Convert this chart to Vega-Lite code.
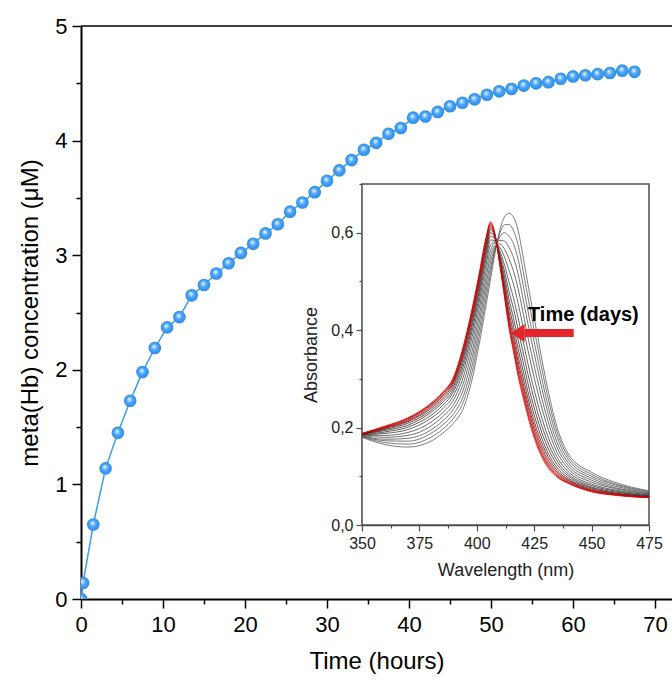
{
  "$schema": "https://vega.github.io/schema/vega-lite/v6.json",
  "width": 591,
  "height": 573,
  "autosize": {"type": "none"},
  "padding": {"left": 81, "top": 26, "right": 0, "bottom": 83},
  "background": "white",
  "config": {"view": {"stroke": null}, "font": "Liberation Sans", "axis": {"grid": false, "labelOverlap": false, "labelFlush": false, "titleFontWeight": "normal"}},
  "datasets": {
    "main": [
      {"t":0,"c":0},{"t":0.25,"c":0.14},{"t":1.5,"c":0.65},{"t":3,"c":1.14},{"t":4.5,"c":1.45},{"t":6,"c":1.73},{"t":7.5,"c":1.98},{"t":9,"c":2.19},{"t":10.5,"c":2.37},{"t":12,"c":2.46},{"t":13.5,"c":2.65},{"t":15,"c":2.74},{"t":16.5,"c":2.84},{"t":18,"c":2.93},{"t":19.5,"c":3.02},{"t":21,"c":3.1},{"t":22.5,"c":3.19},{"t":24,"c":3.27},{"t":25.5,"c":3.38},{"t":27,"c":3.46},{"t":28.5,"c":3.55},{"t":30,"c":3.65},{"t":31.5,"c":3.74},{"t":33,"c":3.83},{"t":34.5,"c":3.92},{"t":36,"c":3.98},{"t":37.5,"c":4.06},{"t":39,"c":4.11},{"t":40.5,"c":4.2},{"t":42,"c":4.21},{"t":43.5,"c":4.25},{"t":45,"c":4.3},{"t":46.5,"c":4.33},{"t":48,"c":4.36},{"t":49.5,"c":4.4},{"t":51,"c":4.43},{"t":52.5,"c":4.45},{"t":54,"c":4.48},{"t":55.5,"c":4.5},{"t":57,"c":4.51},{"t":58.5,"c":4.54},{"t":60,"c":4.56},{"t":61.5,"c":4.57},{"t":63,"c":4.58},{"t":64.5,"c":4.59},{"t":66,"c":4.61},{"t":67.5,"c":4.6}
    ],
    "spectra": [
      {"k":0,"w":350,"a":0.18},{"k":0,"w":360,"a":0.165},{"k":0,"w":370,"a":0.16},{"k":0,"w":380,"a":0.172},{"k":0,"w":385,"a":0.188},{"k":0,"w":390,"a":0.21},{"k":0,"w":394,"a":0.238},{"k":0,"w":398,"a":0.3},{"k":0,"w":401,"a":0.37},{"k":0,"w":404,"a":0.45},{"k":0,"w":406,"a":0.505},{"k":0,"w":408,"a":0.56},{"k":0,"w":410,"a":0.605},{"k":0,"w":412,"a":0.632},{"k":0,"w":414,"a":0.64},{"k":0,"w":416,"a":0.632},{"k":0,"w":418,"a":0.605},{"k":0,"w":420,"a":0.555},{"k":0,"w":423,"a":0.475},{"k":0,"w":426,"a":0.4},{"k":0,"w":430,"a":0.3},{"k":0,"w":435,"a":0.2},{"k":0,"w":440,"a":0.145},{"k":0,"w":450,"a":0.108},{"k":0,"w":460,"a":0.088},{"k":0,"w":475,"a":0.07},
      {"k":1,"w":350,"a":0.181},{"k":1,"w":360,"a":0.169},{"k":1,"w":370,"a":0.166},{"k":1,"w":380,"a":0.18},{"k":1,"w":385,"a":0.196},{"k":1,"w":390,"a":0.22},{"k":1,"w":394,"a":0.251},{"k":1,"w":398,"a":0.315},{"k":1,"w":401,"a":0.385},{"k":1,"w":404,"a":0.464},{"k":1,"w":406,"a":0.517},{"k":1,"w":408,"a":0.564},{"k":1,"w":410,"a":0.598},{"k":1,"w":412,"a":0.616},{"k":1,"w":414,"a":0.617},{"k":1,"w":416,"a":0.604},{"k":1,"w":418,"a":0.575},{"k":1,"w":420,"a":0.526},{"k":1,"w":423,"a":0.449},{"k":1,"w":426,"a":0.377},{"k":1,"w":430,"a":0.283},{"k":1,"w":435,"a":0.19},{"k":1,"w":440,"a":0.139},{"k":1,"w":450,"a":0.104},{"k":1,"w":460,"a":0.085},{"k":1,"w":475,"a":0.069},
      {"k":2,"w":350,"a":0.182},{"k":2,"w":360,"a":0.173},{"k":2,"w":370,"a":0.172},{"k":2,"w":380,"a":0.188},{"k":2,"w":385,"a":0.205},{"k":2,"w":390,"a":0.229},{"k":2,"w":394,"a":0.263},{"k":2,"w":398,"a":0.329},{"k":2,"w":401,"a":0.399},{"k":2,"w":404,"a":0.478},{"k":2,"w":406,"a":0.528},{"k":2,"w":408,"a":0.567},{"k":2,"w":410,"a":0.591},{"k":2,"w":412,"a":0.6},{"k":2,"w":414,"a":0.593},{"k":2,"w":416,"a":0.577},{"k":2,"w":418,"a":0.545},{"k":2,"w":420,"a":0.497},{"k":2,"w":423,"a":0.422},{"k":2,"w":426,"a":0.353},{"k":2,"w":430,"a":0.265},{"k":2,"w":435,"a":0.18},{"k":2,"w":440,"a":0.133},{"k":2,"w":450,"a":0.1},{"k":2,"w":460,"a":0.083},{"k":2,"w":475,"a":0.067},
      {"k":3,"w":350,"a":0.182},{"k":3,"w":360,"a":0.176},{"k":3,"w":370,"a":0.178},{"k":3,"w":380,"a":0.195},{"k":3,"w":385,"a":0.213},{"k":3,"w":390,"a":0.239},{"k":3,"w":394,"a":0.276},{"k":3,"w":398,"a":0.344},{"k":3,"w":401,"a":0.414},{"k":3,"w":404,"a":0.492},{"k":3,"w":406,"a":0.54},{"k":3,"w":408,"a":0.571},{"k":3,"w":410,"a":0.584},{"k":3,"w":412,"a":0.583},{"k":3,"w":414,"a":0.57},{"k":3,"w":416,"a":0.549},{"k":3,"w":418,"a":0.515},{"k":3,"w":420,"a":0.468},{"k":3,"w":423,"a":0.396},{"k":3,"w":426,"a":0.33},{"k":3,"w":430,"a":0.248},{"k":3,"w":435,"a":0.169},{"k":3,"w":440,"a":0.127},{"k":3,"w":450,"a":0.096},{"k":3,"w":460,"a":0.08},{"k":3,"w":475,"a":0.066},
      {"k":4,"w":350,"a":0.183},{"k":4,"w":360,"a":0.18},{"k":4,"w":370,"a":0.184},{"k":4,"w":380,"a":0.203},{"k":4,"w":385,"a":0.222},{"k":4,"w":390,"a":0.248},{"k":4,"w":394,"a":0.289},{"k":4,"w":398,"a":0.358},{"k":4,"w":401,"a":0.428},{"k":4,"w":404,"a":0.506},{"k":4,"w":406,"a":0.552},{"k":4,"w":408,"a":0.574},{"k":4,"w":410,"a":0.577},{"k":4,"w":412,"a":0.567},{"k":4,"w":414,"a":0.546},{"k":4,"w":416,"a":0.521},{"k":4,"w":418,"a":0.485},{"k":4,"w":420,"a":0.439},{"k":4,"w":423,"a":0.369},{"k":4,"w":426,"a":0.306},{"k":4,"w":430,"a":0.23},{"k":4,"w":435,"a":0.159},{"k":4,"w":440,"a":0.121},{"k":4,"w":450,"a":0.092},{"k":4,"w":460,"a":0.077},{"k":4,"w":475,"a":0.064},
      {"k":5,"w":350,"a":0.184},{"k":5,"w":360,"a":0.184},{"k":5,"w":370,"a":0.19},{"k":5,"w":380,"a":0.211},{"k":5,"w":385,"a":0.23},{"k":5,"w":390,"a":0.258},{"k":5,"w":394,"a":0.302},{"k":5,"w":398,"a":0.373},{"k":5,"w":401,"a":0.443},{"k":5,"w":404,"a":0.52},{"k":5,"w":406,"a":0.564},{"k":5,"w":408,"a":0.578},{"k":5,"w":410,"a":0.57},{"k":5,"w":412,"a":0.551},{"k":5,"w":414,"a":0.523},{"k":5,"w":416,"a":0.494},{"k":5,"w":418,"a":0.455},{"k":5,"w":420,"a":0.41},{"k":5,"w":423,"a":0.343},{"k":5,"w":426,"a":0.283},{"k":5,"w":430,"a":0.213},{"k":5,"w":435,"a":0.149},{"k":5,"w":440,"a":0.115},{"k":5,"w":450,"a":0.088},{"k":5,"w":460,"a":0.075},{"k":5,"w":475,"a":0.063},
      {"k":6,"w":350,"a":0.185},{"k":6,"w":360,"a":0.188},{"k":6,"w":370,"a":0.196},{"k":6,"w":380,"a":0.219},{"k":6,"w":385,"a":0.238},{"k":6,"w":390,"a":0.267},{"k":6,"w":394,"a":0.314},{"k":6,"w":398,"a":0.387},{"k":6,"w":401,"a":0.457},{"k":6,"w":404,"a":0.534},{"k":6,"w":406,"a":0.575},{"k":6,"w":408,"a":0.581},{"k":6,"w":410,"a":0.563},{"k":6,"w":412,"a":0.535},{"k":6,"w":414,"a":0.499},{"k":6,"w":416,"a":0.466},{"k":6,"w":418,"a":0.425},{"k":6,"w":420,"a":0.381},{"k":6,"w":423,"a":0.316},{"k":6,"w":426,"a":0.259},{"k":6,"w":430,"a":0.195},{"k":6,"w":435,"a":0.139},{"k":6,"w":440,"a":0.109},{"k":6,"w":450,"a":0.084},{"k":6,"w":460,"a":0.072},{"k":6,"w":475,"a":0.062},
      {"k":7,"w":350,"a":0.185},{"k":7,"w":360,"a":0.191},{"k":7,"w":370,"a":0.201},{"k":7,"w":380,"a":0.225},{"k":7,"w":385,"a":0.245},{"k":7,"w":390,"a":0.275},{"k":7,"w":394,"a":0.324},{"k":7,"w":398,"a":0.399},{"k":7,"w":401,"a":0.469},{"k":7,"w":404,"a":0.545},{"k":7,"w":406,"a":0.585},{"k":7,"w":408,"a":0.584},{"k":7,"w":410,"a":0.557},{"k":7,"w":412,"a":0.522},{"k":7,"w":414,"a":0.48},{"k":7,"w":416,"a":0.444},{"k":7,"w":418,"a":0.401},{"k":7,"w":420,"a":0.358},{"k":7,"w":423,"a":0.295},{"k":7,"w":426,"a":0.24},{"k":7,"w":430,"a":0.181},{"k":7,"w":435,"a":0.131},{"k":7,"w":440,"a":0.104},{"k":7,"w":450,"a":0.081},{"k":7,"w":460,"a":0.07},{"k":7,"w":475,"a":0.06},
      {"k":8,"w":350,"a":0.186},{"k":8,"w":360,"a":0.194},{"k":8,"w":370,"a":0.205},{"k":8,"w":380,"a":0.231},{"k":8,"w":385,"a":0.251},{"k":8,"w":390,"a":0.281},{"k":8,"w":394,"a":0.333},{"k":8,"w":398,"a":0.409},{"k":8,"w":401,"a":0.479},{"k":8,"w":404,"a":0.555},{"k":8,"w":406,"a":0.593},{"k":8,"w":408,"a":0.586},{"k":8,"w":410,"a":0.553},{"k":8,"w":412,"a":0.511},{"k":8,"w":414,"a":0.464},{"k":8,"w":416,"a":0.424},{"k":8,"w":418,"a":0.38},{"k":8,"w":420,"a":0.338},{"k":8,"w":423,"a":0.276},{"k":8,"w":426,"a":0.224},{"k":8,"w":430,"a":0.169},{"k":8,"w":435,"a":0.124},{"k":8,"w":440,"a":0.1},{"k":8,"w":450,"a":0.078},{"k":8,"w":460,"a":0.068},{"k":8,"w":475,"a":0.06},
      {"k":9,"w":350,"a":0.186},{"k":9,"w":360,"a":0.196},{"k":9,"w":370,"a":0.209},{"k":9,"w":380,"a":0.235},{"k":9,"w":385,"a":0.256},{"k":9,"w":390,"a":0.287},{"k":9,"w":394,"a":0.341},{"k":9,"w":398,"a":0.417},{"k":9,"w":401,"a":0.487},{"k":9,"w":404,"a":0.563},{"k":9,"w":406,"a":0.6},{"k":9,"w":408,"a":0.588},{"k":9,"w":410,"a":0.548},{"k":9,"w":412,"a":0.501},{"k":9,"w":414,"a":0.45},{"k":9,"w":416,"a":0.408},{"k":9,"w":418,"a":0.362},{"k":9,"w":420,"a":0.32},{"k":9,"w":423,"a":0.26},{"k":9,"w":426,"a":0.21},{"k":9,"w":430,"a":0.158},{"k":9,"w":435,"a":0.117},{"k":9,"w":440,"a":0.096},{"k":9,"w":450,"a":0.076},{"k":9,"w":460,"a":0.066},{"k":9,"w":475,"a":0.059},
      {"k":10,"w":350,"a":0.187},{"k":10,"w":360,"a":0.198},{"k":10,"w":370,"a":0.212},{"k":10,"w":380,"a":0.239},{"k":10,"w":385,"a":0.26},{"k":10,"w":390,"a":0.292},{"k":10,"w":394,"a":0.347},{"k":10,"w":398,"a":0.425},{"k":10,"w":401,"a":0.495},{"k":10,"w":404,"a":0.57},{"k":10,"w":406,"a":0.606},{"k":10,"w":408,"a":0.59},{"k":10,"w":410,"a":0.545},{"k":10,"w":412,"a":0.493},{"k":10,"w":414,"a":0.438},{"k":10,"w":416,"a":0.394},{"k":10,"w":418,"a":0.347},{"k":10,"w":420,"a":0.306},{"k":10,"w":423,"a":0.247},{"k":10,"w":426,"a":0.198},{"k":10,"w":430,"a":0.15},{"k":10,"w":435,"a":0.112},{"k":10,"w":440,"a":0.093},{"k":10,"w":450,"a":0.074},{"k":10,"w":460,"a":0.065},{"k":10,"w":475,"a":0.058},
      {"k":11,"w":350,"a":0.187},{"k":11,"w":360,"a":0.199},{"k":11,"w":370,"a":0.214},{"k":11,"w":380,"a":0.242},{"k":11,"w":385,"a":0.264},{"k":11,"w":390,"a":0.296},{"k":11,"w":394,"a":0.352},{"k":11,"w":398,"a":0.431},{"k":11,"w":401,"a":0.501},{"k":11,"w":404,"a":0.576},{"k":11,"w":406,"a":0.61},{"k":11,"w":408,"a":0.592},{"k":11,"w":410,"a":0.542},{"k":11,"w":412,"a":0.486},{"k":11,"w":414,"a":0.429},{"k":11,"w":416,"a":0.383},{"k":11,"w":418,"a":0.335},{"k":11,"w":420,"a":0.294},{"k":11,"w":423,"a":0.237},{"k":11,"w":426,"a":0.189},{"k":11,"w":430,"a":0.143},{"k":11,"w":435,"a":0.108},{"k":11,"w":440,"a":0.091},{"k":11,"w":450,"a":0.072},{"k":11,"w":460,"a":0.064},{"k":11,"w":475,"a":0.057},
      {"k":12,"w":350,"a":0.187},{"k":12,"w":360,"a":0.2},{"k":12,"w":370,"a":0.216},{"k":12,"w":380,"a":0.245},{"k":12,"w":385,"a":0.266},{"k":12,"w":390,"a":0.298},{"k":12,"w":394,"a":0.356},{"k":12,"w":398,"a":0.435},{"k":12,"w":401,"a":0.505},{"k":12,"w":404,"a":0.58},{"k":12,"w":406,"a":0.614},{"k":12,"w":408,"a":0.593},{"k":12,"w":410,"a":0.54},{"k":12,"w":412,"a":0.481},{"k":12,"w":414,"a":0.421},{"k":12,"w":416,"a":0.374},{"k":12,"w":418,"a":0.326},{"k":12,"w":420,"a":0.285},{"k":12,"w":423,"a":0.229},{"k":12,"w":426,"a":0.181},{"k":12,"w":430,"a":0.137},{"k":12,"w":435,"a":0.105},{"k":12,"w":440,"a":0.089},{"k":12,"w":450,"a":0.071},{"k":12,"w":460,"a":0.063},{"k":12,"w":475,"a":0.057},
      {"k":13,"w":350,"a":0.188},{"k":13,"w":360,"a":0.201},{"k":13,"w":370,"a":0.218},{"k":13,"w":380,"a":0.247},{"k":13,"w":385,"a":0.269},{"k":13,"w":390,"a":0.301},{"k":13,"w":394,"a":0.36},{"k":13,"w":398,"a":0.439},{"k":13,"w":401,"a":0.509},{"k":13,"w":404,"a":0.584},{"k":13,"w":406,"a":0.617},{"k":13,"w":408,"a":0.594},{"k":13,"w":410,"a":0.538},{"k":13,"w":412,"a":0.476},{"k":13,"w":414,"a":0.414},{"k":13,"w":416,"a":0.366},{"k":13,"w":418,"a":0.317},{"k":13,"w":420,"a":0.277},{"k":13,"w":423,"a":0.221},{"k":13,"w":426,"a":0.174},{"k":13,"w":430,"a":0.132},{"k":13,"w":435,"a":0.102},{"k":13,"w":440,"a":0.087},{"k":13,"w":450,"a":0.07},{"k":13,"w":460,"a":0.062},{"k":13,"w":475,"a":0.057},
      {"k":14,"w":350,"a":0.188},{"k":14,"w":360,"a":0.202},{"k":14,"w":370,"a":0.219},{"k":14,"w":380,"a":0.248},{"k":14,"w":385,"a":0.27},{"k":14,"w":390,"a":0.303},{"k":14,"w":394,"a":0.362},{"k":14,"w":398,"a":0.442},{"k":14,"w":401,"a":0.512},{"k":14,"w":404,"a":0.587},{"k":14,"w":406,"a":0.62},{"k":14,"w":408,"a":0.594},{"k":14,"w":410,"a":0.536},{"k":14,"w":412,"a":0.473},{"k":14,"w":414,"a":0.41},{"k":14,"w":416,"a":0.361},{"k":14,"w":418,"a":0.311},{"k":14,"w":420,"a":0.271},{"k":14,"w":423,"a":0.215},{"k":14,"w":426,"a":0.17},{"k":14,"w":430,"a":0.129},{"k":14,"w":435,"a":0.1},{"k":14,"w":440,"a":0.086},{"k":14,"w":450,"a":0.069},{"k":14,"w":460,"a":0.062},{"k":14,"w":475,"a":0.056},
      {"k":15,"w":350,"a":0.188},{"k":15,"w":360,"a":0.203},{"k":15,"w":370,"a":0.22},{"k":15,"w":380,"a":0.25},{"k":15,"w":385,"a":0.272},{"k":15,"w":390,"a":0.305},{"k":15,"w":394,"a":0.365},{"k":15,"w":398,"a":0.445},{"k":15,"w":401,"a":0.515},{"k":15,"w":404,"a":0.59},{"k":15,"w":406,"a":0.622},{"k":15,"w":408,"a":0.595},{"k":15,"w":410,"a":0.535},{"k":15,"w":412,"a":0.47},{"k":15,"w":414,"a":0.405},{"k":15,"w":416,"a":0.355},{"k":15,"w":418,"a":0.305},{"k":15,"w":420,"a":0.265},{"k":15,"w":423,"a":0.21},{"k":15,"w":426,"a":0.165},{"k":15,"w":430,"a":0.125},{"k":15,"w":435,"a":0.098},{"k":15,"w":440,"a":0.085},{"k":15,"w":450,"a":0.068},{"k":15,"w":460,"a":0.061},{"k":15,"w":475,"a":0.056}
    ],
    "arrow": [{"x": 420.9, "x2": 442.2, "y": 0.394, "hx": 417.8}],
    "label": [{"w": 422.3, "a": 0.431, "text": "Time (days)"}]
  },
  "layer": [
    {
      "layer": [
        {
          "data": {"values": [{}]},
          "mark": {"type": "rule", "color": "black", "strokeWidth": 1.5},
          "encoding": {
            "y": {"datum": 5, "type": "quantitative", "scale": {"domain": [0, 5], "nice": false, "zero": false}}
          }
        },
        {
          "data": {"name": "main"},
          "mark": {"type": "line", "color": "#3d9cf0", "strokeWidth": 1.5, "clip": true},
          "encoding": {
            "x": {"field": "t", "type": "quantitative", "scale": {"domain": [0, 72.07], "nice": false, "zero": false},
              "axis": {"title": "Time (hours)", "orient": "bottom", "values": [0,5,10,15,20,25,30,35,40,45,50,55,60,65,70],
                "labelExpr": "datum.value % 10 === 0 ? format(datum.value, 'd') : ''",
                "tickSize": {"condition": {"test": "datum.value % 10 !== 0", "value": 5}, "value": 9},
                "tickWidth": 1.5, "tickColor": "black", "domainColor": "black", "domainWidth": 2,
                "labelFontSize": 22, "labelColor": "black", "labelPadding": 6, "labelFont": "Liberation Sans",
                "titleFontSize": 24, "titleColor": "black", "titlePadding": 14, "titleFont": "Liberation Sans"}},
            "y": {"field": "c", "type": "quantitative", "scale": {"domain": [0, 5], "nice": false, "zero": false},
              "axis": {"title": "meta(Hb) concentration (μM)", "orient": "left", "values": [0,0.5,1,1.5,2,2.5,3,3.5,4,4.5,5],
                "labelExpr": "datum.value % 1 === 0 ? format(datum.value, 'd') : ''",
                "tickSize": {"condition": {"test": "datum.value % 1 !== 0", "value": 5}, "value": 9},
                "tickWidth": 1.5, "tickColor": "black", "domainColor": "black", "domainWidth": 2,
                "labelFontSize": 22, "labelColor": "black", "labelPadding": 5, "labelFont": "Liberation Sans",
                "titleFontSize": 24, "titleColor": "black", "titlePadding": 12, "titleFont": "Liberation Sans"}}
          }
        },
        {
          "data": {"name": "main"},
          "mark": {"type": "circle", "size": 160, "opacity": 1, "clip": true,
            "fill": {"gradient": "radial", "x1": 0.42, "y1": 0.36, "r1": 0, "x2": 0.5, "y2": 0.5, "r2": 0.5,
              "stops": [{"offset": 0, "color": "#ffffff"}, {"offset": 0.18, "color": "#b4dcff"}, {"offset": 0.5, "color": "#4aa6f7"}, {"offset": 1, "color": "#2e8ae6"}]}},
          "encoding": {
            "x": {"field": "t", "type": "quantitative"},
            "y": {"field": "c", "type": "quantitative"}
          }
        }
      ]
    },
    {
      "layer": [
        {
          "data": {"values": [{}]},
          "mark": {"type": "rect", "fill": "white", "stroke": "#4d4d4d", "strokeWidth": 1.5},
          "encoding": {
            "x": {"datum": 350, "type": "quantitative", "scale": {"domain": [350, 475], "range": [281, 568], "nice": false, "zero": false},
              "axis": {"title": "Wavelength (nm)", "orient": "bottom", "offset": -74,
                "values": [350,362.5,375,387.5,400,412.5,425,437.5,450,462.5,475],
                "labelExpr": "datum.value % 25 === 0 ? datum.label : ''",
                "tickSize": {"condition": {"test": "datum.value % 25 !== 0", "value": 3}, "value": 6},
                "tickWidth": 1.2, "tickColor": "#4d4d4d", "domainColor": "#4d4d4d", "domainWidth": 1.5,
                "labelFontSize": 16, "labelColor": "#222222", "labelPadding": 4, "labelFont": "Liberation Sans",
                "titleFontSize": 18, "titleColor": "#222222", "titlePadding": 10, "titleFont": "Liberation Sans"}},
            "x2": {"datum": 475},
            "y": {"datum": 0, "type": "quantitative", "scale": {"domain": [0, 0.7], "range": [499, 158], "nice": false, "zero": false},
              "axis": {"title": "Absorbance", "orient": "left", "offset": -281,
                "values": [0,0.1,0.2,0.3,0.4,0.5,0.6,0.7],
                "labelExpr": "round(datum.value*10) % 2 === 0 && datum.value < 0.65 ? replace(format(datum.value, '.1f'), '.', ',') : ''",
                "tickSize": {"condition": {"test": "round(datum.value*10) % 2 !== 0", "value": 3}, "value": 6},
                "tickWidth": 1.2, "tickColor": "#4d4d4d", "domainColor": "#4d4d4d", "domainWidth": 1.5,
                "labelFontSize": 16, "labelColor": "#222222", "labelPadding": 3, "labelFont": "Liberation Sans",
                "titleFontSize": 18, "titleColor": "#222222", "titlePadding": 10, "titleFont": "Liberation Sans"}},
            "y2": {"datum": 0.7}
          }
        },
        {
          "data": {"name": "spectra"},
          "mark": {"type": "line", "interpolate": "monotone"},
          "encoding": {
            "x": {"field": "w", "type": "quantitative"},
            "y": {"field": "a", "type": "quantitative"},
            "color": {"field": "k", "type": "ordinal", "legend": null,
              "scale": {"range": ["#5c5c5c","#5a5a5a","#565656","#515151","#4b4b4b","#454545","#3e3e3e","#393232","#3a2a2a","#4a2020","#5e1616","#7a0e0e","#9a0808","#bb0404","#d60000","#e80000"]}},
            "strokeWidth": {"field": "k", "type": "ordinal", "legend": null,
              "scale": {"range": [0.8,0.8,0.8,0.8,0.8,0.8,0.8,0.8,0.9,0.9,1.0,1.2,1.4,1.6,1.8,2.2]}}
          }
        },
        {
          "data": {"name": "arrow"},
          "mark": {"type": "rule", "color": "#e3262b", "strokeWidth": 8, "strokeCap": "butt"},
          "encoding": {
            "x": {"field": "x", "type": "quantitative"},
            "x2": {"field": "x2"},
            "y": {"field": "y", "type": "quantitative"}
          }
        },
        {
          "data": {"name": "arrow"},
          "mark": {"type": "point", "filled": true, "shape": "M -0.78 0 L 0.78 -1 L 0.78 1 Z", "size": 324, "color": "#e3262b", "opacity": 1},
          "encoding": {
            "x": {"field": "hx", "type": "quantitative"},
            "y": {"field": "y", "type": "quantitative"}
          }
        },
        {
          "data": {"name": "label"},
          "mark": {"type": "text", "align": "left", "baseline": "middle", "fontSize": 20, "fontWeight": "bold", "color": "black", "font": "Liberation Sans"},
          "encoding": {
            "x": {"field": "w", "type": "quantitative"},
            "y": {"field": "a", "type": "quantitative"},
            "text": {"field": "text"}
          }
        }
      ]
    }
  ],
  "resolve": {"scale": {"x": "independent", "y": "independent"}, "axis": {"x": "independent", "y": "independent"}}
}
